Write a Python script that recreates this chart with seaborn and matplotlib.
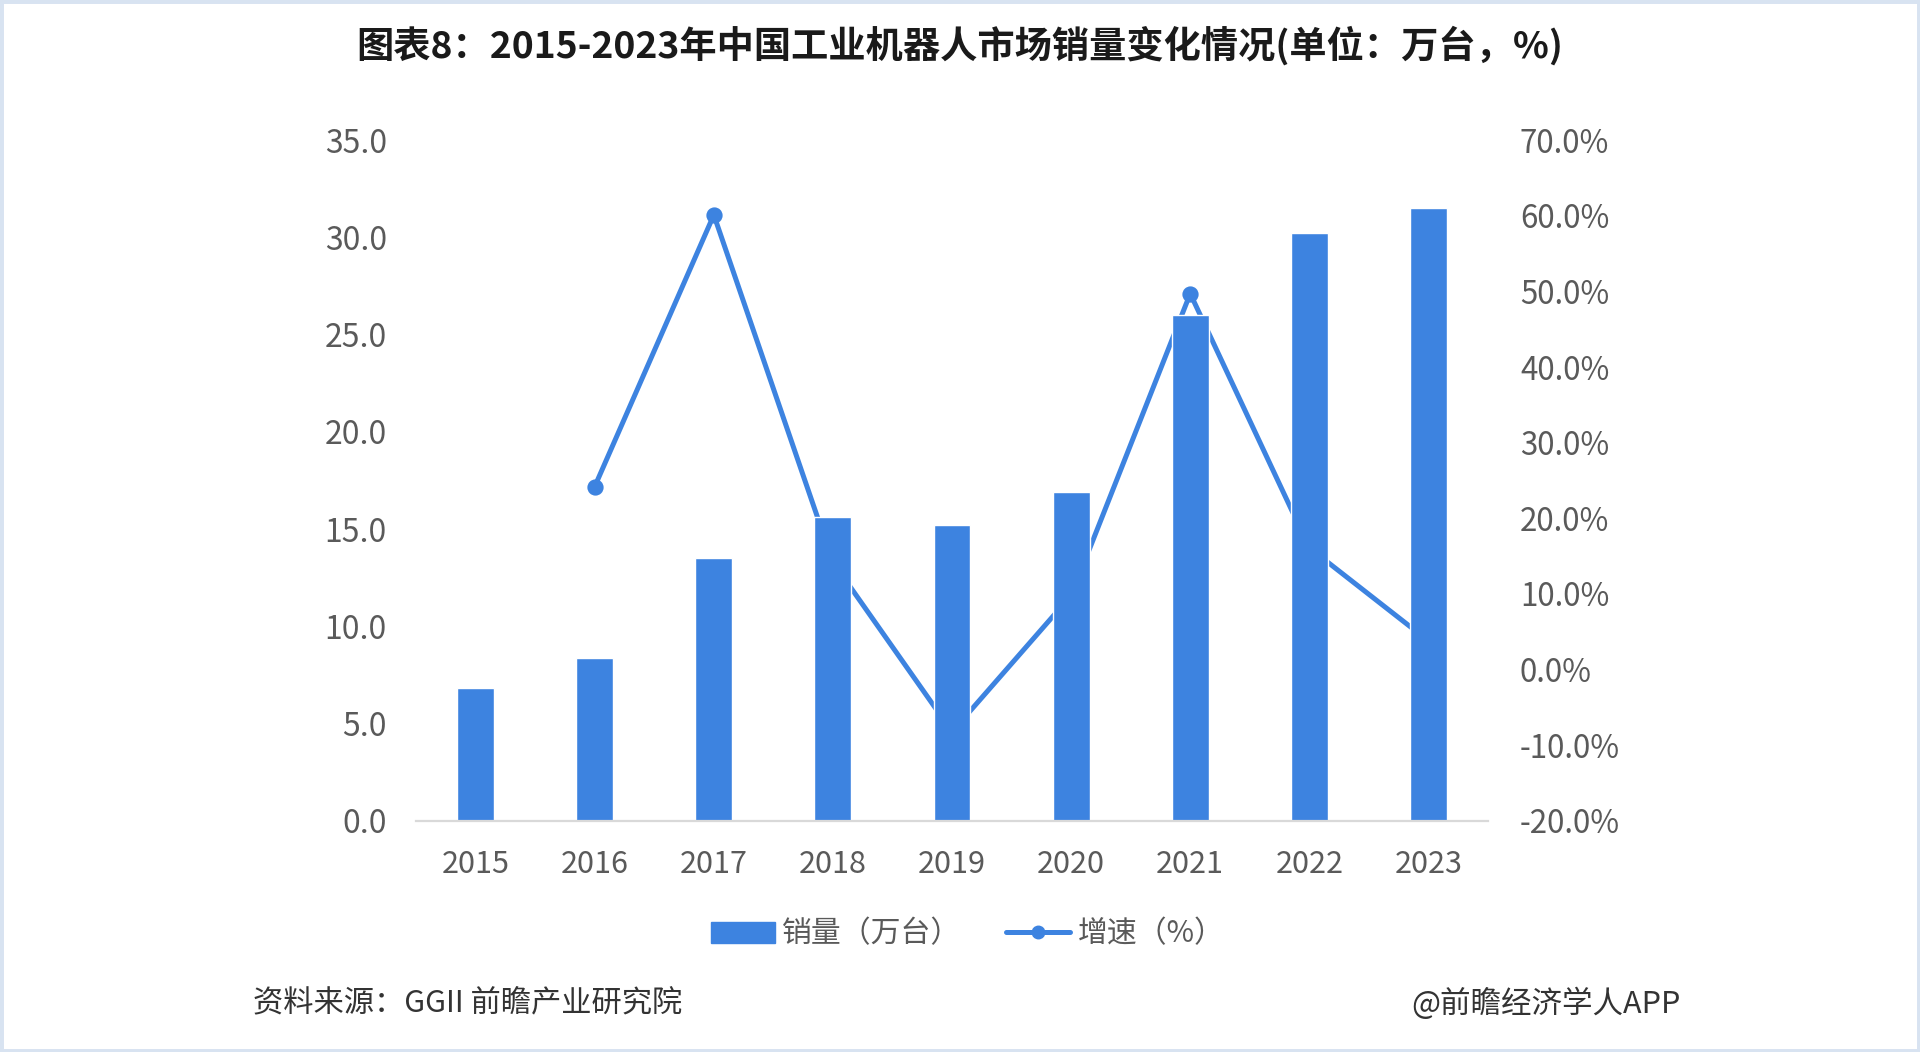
import numpy as np
import pandas as pd
import matplotlib
matplotlib.use("Agg")
import matplotlib.pyplot as plt
from matplotlib.patches import Patch, Rectangle
from matplotlib.lines import Line2D
from matplotlib.ticker import FuncFormatter, MultipleLocator
import seaborn as sns

# ---- data ----
years = ["2015", "2016", "2017", "2018", "2019", "2020", "2021", "2022", "2023"]
sales = [6.84, 8.4, 13.5, 15.6, 15.2, 16.9, 26.0, 30.2, 31.5]          # 万台
growth = [np.nan, 24.2, 60.1, 14.2, -8.2, 9.8, 49.7, 16.1, 3.8]       # %
title = "图表8：2015-2023年中国工业机器人市场销量变化情况(单位：万台，%)"
legend_bar = "销量（万台）"
legend_line = "增速（%）"
source = "资料来源：GGII 前瞻产业研究院"
brand = "@前瞻经济学人APP"

sns.set_theme(style="white")
plt.rcParams["font.family"] = ["Noto Sans CJK SC", "DejaVu Sans"]

BLUE = "#3d83e0"
GRAY = "#5a5a5a"

df = pd.DataFrame({"year": years, "sales": sales, "growth": growth})

fig = plt.figure(figsize=(19.2, 10.52), dpi=100)
ax = fig.add_axes([0.2167, 0.2196, 0.5583, 0.6473])

sns.barplot(data=df, x="year", y="sales", order=years, color=BLUE,
            saturation=1, width=0.31, ax=ax)

ax2 = ax.twinx()
sns.pointplot(data=df, x="year", y="growth", order=years, color=BLUE,
              errorbar=None, markers="o", markersize=9, linewidth=3.6, ax=ax2)

# bars above line
ax.set_zorder(ax2.get_zorder() + 1)
ax.patch.set_visible(False)

for a in (ax, ax2):
    a.set_xlim(-0.5, 8.5)
    a.set_xlabel("")
    a.set_ylabel("")
    for s in a.spines.values():
        s.set_visible(False)
    a.tick_params(length=0)

ax.spines["bottom"].set_visible(True)
ax.spines["bottom"].set_color("#d9d9d9")
ax.spines["bottom"].set_linewidth(1.6)

ax.set_ylim(0, 35)
ax.yaxis.set_major_locator(MultipleLocator(5))
ax.yaxis.set_major_formatter(FuncFormatter(lambda v, p: f"{v:.1f}"))
ax.tick_params(axis="y", labelsize=23, labelcolor=GRAY, pad=21)
ax.tick_params(axis="x", labelsize=22, labelcolor=GRAY, pad=20)

ax2.set_ylim(-20, 70)
ax2.yaxis.set_major_locator(MultipleLocator(10))
ax2.yaxis.set_major_formatter(FuncFormatter(lambda v, p: f"{v:.1f}%"))
ax2.tick_params(axis="y", labelsize=22.5, labelcolor=GRAY, pad=23)
ax2.grid(False)
ax.grid(False)

# title
fig.text(0.5, 1 - 46 / 1052, title, ha="center", va="center",
         fontsize=26.8, fontweight="bold", color="#1a1a1a")

# legend
handles = [Patch(facecolor=BLUE, edgecolor=BLUE),
           Line2D([0], [0], color=BLUE, lw=3.6, marker="o", markersize=9)]
fig.legend(handles, [legend_bar, legend_line], loc="center",
           bbox_to_anchor=(0.504, 1 - 934 / 1052), ncol=2, frameon=False,
           fontsize=21.5, handlelength=2.15, handleheight=0.7,
           handletextpad=0.25, columnspacing=1.5, labelcolor=GRAY)

# footer
fig.text(253 / 1920, 1 - 1004 / 1052, source, ha="left", va="center",
         fontsize=21.8, color="#333333")
fig.text(1681 / 1920, 1 - 1004 / 1052, brand, ha="right", va="center",
         fontsize=22, color="#333333")

# light frame
fig.patches.append(Rectangle((0, 0), 1, 1, transform=fig.transFigure,
                             fill=False, edgecolor="#d8e3f1", linewidth=5))

fig.savefig("out.png", dpi=100, facecolor="white")
